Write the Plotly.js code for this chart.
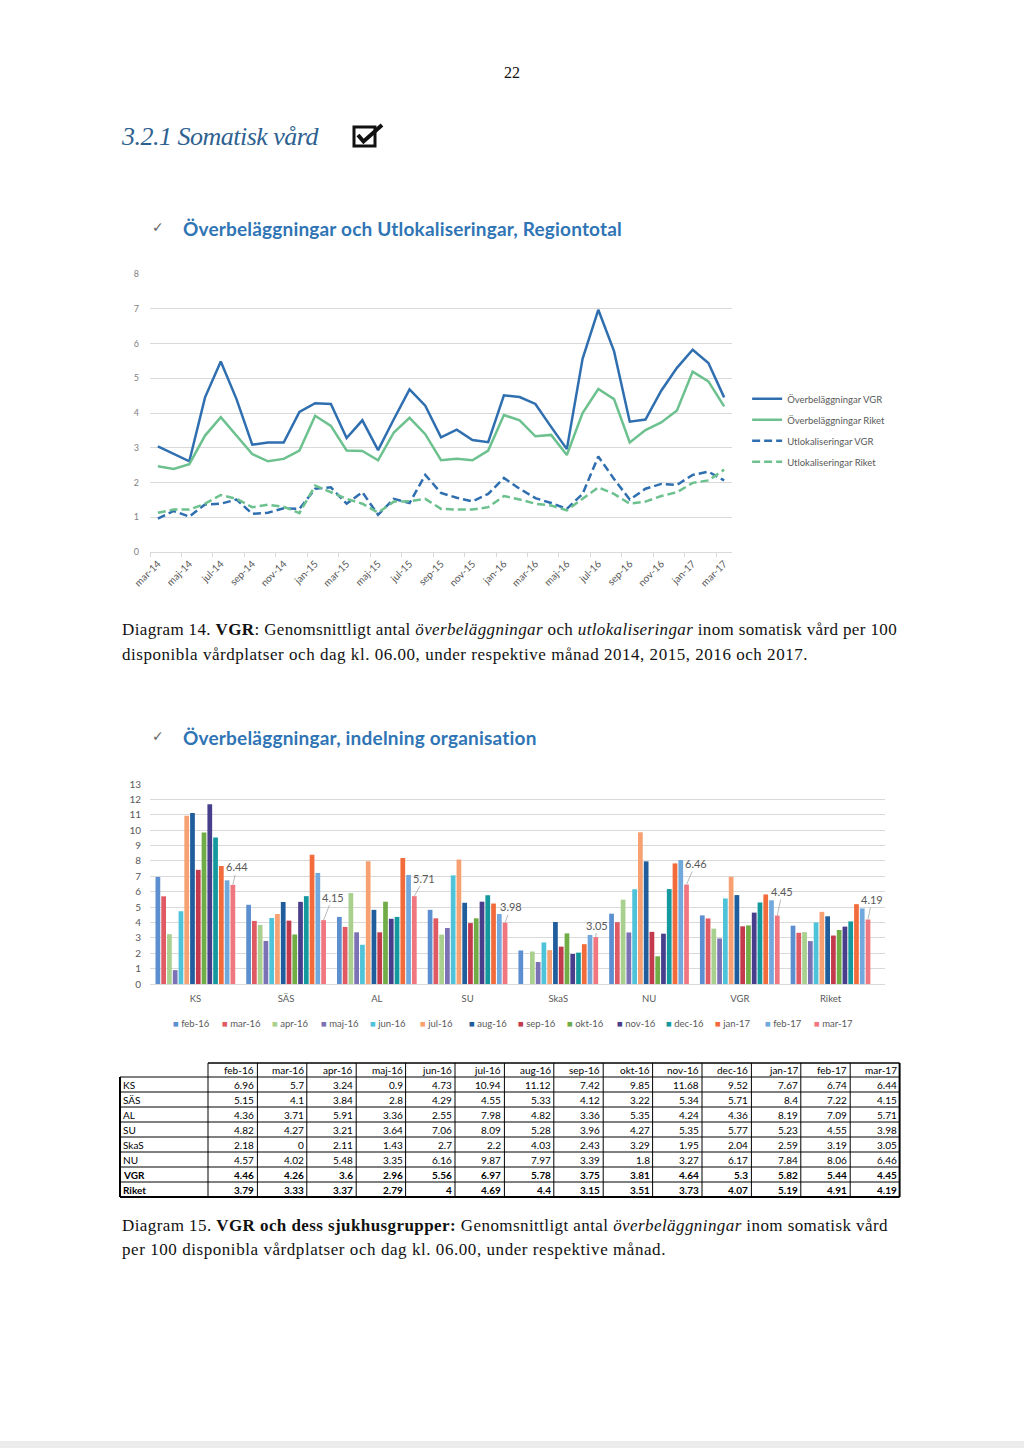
<!DOCTYPE html>
<html><head><meta charset="utf-8">
<script src="https://cdn.plot.ly/plotly-3.0.1.min.js"></script>
<style>
body{margin:0;background:#fff;}
#page{position:relative;width:1024px;height:1448px;overflow:hidden;background:#fff;font-family:'Liberation Serif',serif;color:#111;}
.abs{position:absolute;white-space:nowrap;}
.sub{font-family:Lato,sans-serif;font-weight:bold;font-size:19px;line-height:24px;color:#2f75b5;}
.chk{position:absolute;font-family:'DejaVu Sans',sans-serif;font-weight:normal;font-size:14px;color:#666;}
.cap{font-size:17px;line-height:25px;left:122px;}
</style></head>
<body><div id="page">
<div class="abs" style="left:0;width:1024px;text-align:center;top:63px;font-size:16px;line-height:20px;">22</div>
<div class="abs" id="h1" style="left:122px;top:122px;font-style:italic;font-size:26px;line-height:30px;color:#2e6190;">3.2.1 Somatisk vård</div>
<svg class="abs" style="left:349px;top:120px" width="40" height="32"><rect x="5" y="7" width="21" height="19" fill="none" stroke="#111" stroke-width="3"/><path d="M9,15 L14.5,21.5 L33,5" fill="none" stroke="#111" stroke-width="4"/></svg>

<span class="chk" style="left:152px;top:219px;">✓</span>
<div class="abs sub" id="s1" style="left:183px;top:217px;">Överbeläggningar och Utlokaliseringar, Regiontotal</div>
<div id="line" class="abs" style="left:0;top:250px;width:1024px;height:360px;"></div>

<div class="abs cap" id="c1a" style="top:617px;">Diagram 14. <b>VGR</b>: Genomsnittligt antal <i>överbeläggningar</i> och <i>utlokaliseringar</i> inom somatisk vård per 100</div>
<div class="abs cap" id="c1b" style="top:642px;">disponibla vårdplatser och dag kl. 06.00, under respektive månad 2014, 2015, 2016 och 2017.</div>

<span class="chk" style="left:152px;top:728px;">✓</span>
<div class="abs sub" id="s2" style="left:183px;top:726px;">Överbeläggningar, indelning organisation</div>
<div id="bar" class="abs" style="left:0;top:770px;width:1024px;height:270px;"></div>
<div id="tbl" class="abs" style="left:118px;top:1061px;width:784px;height:138px;"></div>

<div class="abs cap" id="c2a" style="top:1214px;line-height:24px;">Diagram 15. <b>VGR och dess sjukhusgrupper:</b> Genomsnittligt antal <i>överbeläggningar</i> inom somatisk vård</div>
<div class="abs cap" id="c2b" style="top:1238px;line-height:24px;">per 100 disponibla vårdplatser och dag kl. 06.00, under respektive månad.</div>
<div class="abs" style="left:0;top:1441px;width:1024px;height:7px;background:#ececec;"></div>
</div>
<script>
// ---------- Diagram 14 data ----------
const months = ['mar-14','apr-14','maj-14','jun-14','jul-14','aug-14','sep-14','okt-14','nov-14','dec-14',
 'jan-15','feb-15','mar-15','apr-15','maj-15','jun-15','jul-15','aug-15','sep-15','okt-15','nov-15','dec-15',
 'jan-16','feb-16','mar-16','apr-16','maj-16','jun-16','jul-16','aug-16','sep-16','okt-16','nov-16','dec-16',
 'jan-17','feb-17','mar-17'];
const overVGR = [3.04,2.82,2.61,4.45,5.48,4.40,3.09,3.15,3.15,4.03,4.28,4.26,3.28,3.79,2.93,3.82,4.68,4.21,3.30,3.52,3.22,3.16,4.51,
 4.46,4.26,3.6,2.96,5.56,6.97,5.78,3.75,3.81,4.64,5.3,5.82,5.44,4.45];
const overRiket = [2.47,2.39,2.53,3.35,3.88,3.35,2.82,2.61,2.68,2.92,3.92,3.63,2.92,2.91,2.64,3.44,3.86,3.39,2.64,2.68,2.64,2.92,3.94,
 3.79,3.33,3.37,2.79,4,4.69,4.4,3.15,3.51,3.73,4.07,5.19,4.91,4.19];
const utlVGR = [0.96,1.18,1.02,1.37,1.39,1.51,1.10,1.13,1.26,1.24,1.82,1.86,1.39,1.72,1.07,1.53,1.41,2.22,1.70,1.56,1.46,1.67,2.13,
 1.82,1.55,1.41,1.24,1.67,2.75,2.10,1.51,1.82,1.96,1.93,2.22,2.31,2.06];
const utlRiket = [1.13,1.22,1.22,1.39,1.64,1.53,1.29,1.36,1.30,1.12,1.91,1.72,1.53,1.39,1.13,1.45,1.46,1.53,1.24,1.22,1.22,1.29,1.61,
 1.51,1.39,1.34,1.20,1.53,1.86,1.67,1.39,1.45,1.61,1.72,1.99,2.06,2.37];
const lineNames = ['Överbeläggningar VGR','Överbeläggningar Riket','Utlokaliseringar VGR','Utlokaliseringar Riket'];

// ---------- Diagram 15 data ----------
const orgs = ['KS','SÄS','AL','SU','SkaS','NU','VGR','Riket'];
const barMonths = ['feb-16','mar-16','apr-16','maj-16','jun-16','jul-16','aug-16','sep-16','okt-16','nov-16','dec-16','jan-17','feb-17','mar-17'];
const KS   = [6.96,5.7,3.24,0.9,4.73,10.94,11.12,7.42,9.85,11.68,9.52,7.67,6.74,6.44];
const SAS  = [5.15,4.1,3.84,2.8,4.29,4.55,5.33,4.12,3.22,5.34,5.71,8.4,7.22,4.15];
const AL   = [4.36,3.71,5.91,3.36,2.55,7.98,4.82,3.36,5.35,4.24,4.36,8.19,7.09,5.71];
const SU   = [4.82,4.27,3.21,3.64,7.06,8.09,5.28,3.96,4.27,5.35,5.77,5.23,4.55,3.98];
const SkaS = [2.18,0,2.11,1.43,2.7,2.2,4.03,2.43,3.29,1.95,2.04,2.59,3.19,3.05];
const NU   = [4.57,4.02,5.48,3.35,6.16,9.87,7.97,3.39,1.8,3.27,6.17,7.84,8.06,6.46];
const VGR  = [4.46,4.26,3.6,2.96,5.56,6.97,5.78,3.75,3.81,4.64,5.3,5.82,5.44,4.45];
const Riket= [3.79,3.33,3.37,2.79,4,4.69,4.4,3.15,3.51,3.73,4.07,5.19,4.91,4.19];
const orgRows = [KS,SAS,AL,SU,SkaS,NU,VGR,Riket];
const boldOrgs = ['VGR','Riket'];

// ---------- styles ----------
const lineColors = ['#2f6fb0','#6cc18e','#2f6fb0','#6cc18e'];
const lineDash = ['solid','solid','8px,4px','8px,4px'];
const barColors = ['#5b8fcf','#e05a63','#a9d08e','#7a72b4','#4ec3d9','#f7a072','#1f5d9c','#c43a4d',
 '#70ad47','#473f8c','#149a9e','#f26b3a','#71a9dc','#f07680'];
const labelOffsets = [[4,-18],[9,-23],[10,-18],[6,-16],[1,-12],[9,-21],[5,-24],[4,-20]];
const grey = '#595959', grid = '#d9d9d9';
const cfg = {staticPlot:true, displayModeBar:false};

// ---------- line chart ----------
const lineSeries = [overVGR, overRiket, utlVGR, utlRiket];
const lineTraces = lineSeries.map((s,k)=>({
  type:'scatter', mode:'lines', x:months, y:s, name:lineNames[k], legendgroup:'g'+k,
  line:{color:lineColors[k], width:2.5, dash:lineDash[k]}
}));
Plotly.newPlot('line', lineTraces, {
  width:1024, height:360,
  margin:{l:150, r:292, t:23.5, b:58, autoexpand:false},
  paper_bgcolor:'rgba(0,0,0,0)', plot_bgcolor:'rgba(0,0,0,0)',
  font:{family:'Lato, sans-serif', size:9, color:grey},
  xaxis:{type:'category', range:[-0.5,36.5], showgrid:false, showline:true, linecolor:grid, linewidth:1,
    ticks:'outside', ticklen:4, tickcolor:grid, tickson:'boundaries', dtick:2, tick0:0, tickangle:-45,
    tickfont:{size:10, color:grey}, ticklabelstandoff:1},
  yaxis:{range:[0,8], dtick:1, showgrid:true, gridcolor:grid, gridwidth:1, zeroline:false, showline:false,
    tickfont:{size:9, color:'#7f7f7f'}, ticklabelstandoff:10},
  showlegend:true,
  legend:{x:1.026, xanchor:'left', y:0.603, yanchor:'top', font:{size:9.5, color:grey},
    traceorder:'grouped', tracegroupgap:2, bgcolor:'rgba(0,0,0,0)', itemwidth:30}
}, cfg);

// ---------- bar chart ----------
const bargap = 0.11;
const barTraces = barMonths.map((m,j)=>({
  type:'bar', x:orgs, y:orgRows.map(r=>r[j]), name:m, marker:{color:barColors[j]}
}));
const nS = barMonths.length;
const lastOff = -(1-bargap)/2 + (nS-0.5)*(1-bargap)/nS;
const annots = orgs.map((o,i)=>({
  x:i+lastOff, y:orgRows[i][nS-1], xref:'x', yref:'y', text:String(orgRows[i][nS-1]),
  showarrow:true, arrowhead:0, arrowwidth:0.8, arrowcolor:'#a6a6a6', standoff:0,
  ax:labelOffsets[i][0], ay:labelOffsets[i][1], font:{size:11, color:grey}
}));
barMonths.forEach((m,j)=>{
  annots.push({xref:'paper', yref:'paper', x:(171 + j*49.3 - 150)/735, y:-0.195, xanchor:'left', yanchor:'middle',
    showarrow:false, text:'<span style="color:'+barColors[j]+'">■</span> '+m, font:{size:9.5, color:grey}});
});
Plotly.newPlot('bar', barTraces, {
  width:1024, height:270,
  margin:{l:150, r:139, t:14, b:56, autoexpand:false},
  paper_bgcolor:'rgba(0,0,0,0)', plot_bgcolor:'rgba(0,0,0,0)',
  font:{family:'Lato, sans-serif', size:10, color:grey},
  barmode:'group', bargap:bargap, bargroupgap:0.18,
  xaxis:{type:'category', showgrid:false, showline:true, linecolor:grid, ticks:'', tickfont:{size:9.5, color:grey}, ticklabelstandoff:6},
  yaxis:{range:[0,13], dtick:1, showgrid:true, gridcolor:grid, zeroline:false, tickfont:{size:10, color:grey}, ticklabelstandoff:8},
  showlegend:false, annotations:annots
}, cfg);

// ---------- table (drawn on pixel-unit axes) ----------
const fmt = (v,b)=> b ? '<b>'+v+'</b>' : String(v);
const firstColW = 88, colW = 49.4, hdrH = 14, rowH = 15;
const colEdges = [0, firstColW];
barMonths.forEach((m,j)=> colEdges.push(firstColW + colW*(j+1)));
const tW = colEdges[colEdges.length-1];
const tH = hdrH + rowH*orgs.length;
const tFont = {family:'Lato, sans-serif', size:10, color:'#000'};
const tblAnn = [];
const cell = (x,y,text,anchor)=> tblAnn.push({xref:'x', yref:'y', x:x, y:y, text:text, xanchor:anchor, yanchor:'middle',
  showarrow:false, font:tFont, borderpad:0});
barMonths.forEach((m,j)=> cell(colEdges[j+2]-2, hdrH/2, m, 'right'));
orgs.forEach((o,i)=>{
  const yc = hdrH + rowH*i + rowH/2, b = boldOrgs.includes(o);
  cell(2, yc, fmt(o,b), 'left');
  orgRows[i].forEach((v,j)=> cell(colEdges[j+2]-2, yc, fmt(v,b), 'right'));
});
const tblShapes = [];
const L = (x0,y0,x1,y1,w)=> tblShapes.push({type:'line', xref:'x', yref:'y', x0:x0, y0:y0, x1:x1, y1:y1, line:{color:'#000', width:w}});
L(firstColW, 0, tW, 0, 1.5);
for (let r=0; r<=orgs.length; r++) L(0, hdrH+rowH*r, tW, hdrH+rowH*r, r===orgs.length ? 2 : 1);
L(0, hdrH, 0, tH, 2); L(tW, 0, tW, tH, 2);
for (let c=1; c<colEdges.length-1; c++) L(colEdges[c], 0, colEdges[c], tH, 1);
Plotly.newPlot('tbl', [], {
  width:784, height:138, margin:{l:0, r:0, t:0, b:0, autoexpand:false},
  paper_bgcolor:'rgba(0,0,0,0)', plot_bgcolor:'rgba(0,0,0,0)',
  xaxis:{range:[-2, 782], visible:false, fixedrange:true},
  yaxis:{range:[136, -2], visible:false, fixedrange:true},
  annotations:tblAnn, shapes:tblShapes, showlegend:false
}, cfg);

// ---------- fit text widths ----------
function fit(id, target){
  const el = document.getElementById(id);
  const w = el.getBoundingClientRect().width;
  const n = el.textContent.length;
  el.style.letterSpacing = ((target - w)/n) + 'px';
}
document.fonts.ready.then(()=>{
  fit('h1',196); fit('s1',439); fit('s2',354);
  fit('c1a',775); fit('c1b',686); fit('c2a',766); fit('c2b',544);
});
</script>
</body></html>
